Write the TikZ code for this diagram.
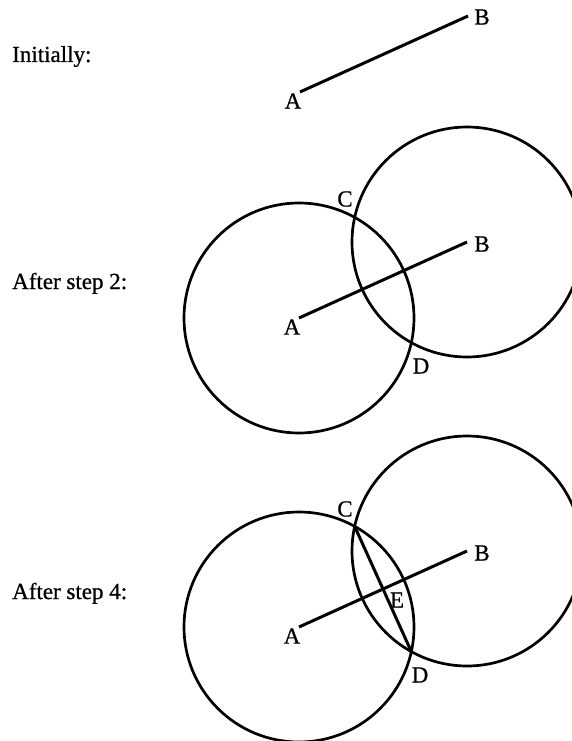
\documentclass[tikz,border=0pt]{standalone}
\usepackage{fontspec}
\setmainfont[FakeBold=0.8,AutoFakeBold=0.8]{Liberation Serif}
\usetikzlibrary{intersections}
\begin{document}
\begin{tikzpicture}[x=1pt,y=-1pt,
  txt/.style={inner sep=0pt, font=\fontsize{23}{27}\selectfont\bfseries},
  caption/.style={txt, anchor=base west},
  seg/.style={line width=3pt},
  circ/.style={line width=2.7pt}]
\useasboundingbox (0,0) rectangle (572,741);
\clip (0,0) rectangle (572,741);
% captions
\node[caption] (t1) at (12,62) {Initially:};
\node[caption] (t2) at (12,289) {After step 2:};
\node[caption] (t3) at (12,599) {After step 4:};
% --- initially
\coordinate (A1) at (300,92);
\coordinate (B1) at (468,16);
\draw[seg] (A1) -- (B1);
\node[txt] (lA1) at (293,101) {A};
\node[txt] (lB1) at (482,17) {B};
% --- after step 2
\coordinate (A2) at (299,318);
\coordinate (B2) at (467,242);
\draw[circ] (A2) circle[radius=115pt];
\draw[circ] (B2) circle[radius=115pt];
\draw[seg] (A2) -- (B2);
\node[txt] (lA2) at (292,327) {A};
\node[txt] (lB2) at (482,244) {B};
\node[txt] (lC2) at (345,199) {C};
\node[txt] (lD2) at (421,366) {D};
% --- after step 4
\coordinate (A3) at (299,627);
\coordinate (B3) at (467,551);
\draw[circ, name path=cA3] (A3) circle[radius=115pt];
\draw[circ, name path=cB3] (B3) circle[radius=115pt];
\path[name intersections={of=cA3 and cB3, by={C3,D3}}];
\draw[seg] (A3) -- (B3);
\draw[seg] (C3) -- (D3);
\node[txt] (lA3) at (292,636) {A};
\node[txt] (lB3) at (482,553) {B};
\node[txt] (lC3) at (345,509) {C};
\node[txt] (lD3) at (420,675) {D};
\node[txt] (lE3) at (397,600) {E};
\end{tikzpicture}
\end{document}
